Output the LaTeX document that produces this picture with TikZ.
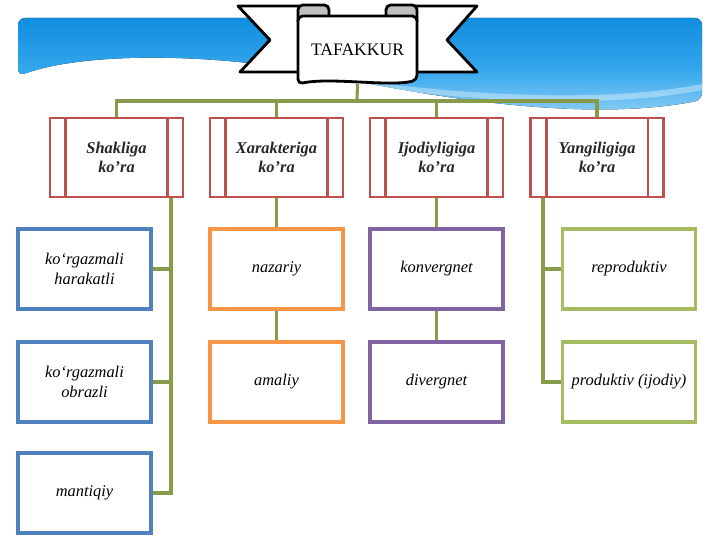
\documentclass[tikz,border=0pt]{standalone}
\usepackage{fontspec}
\setmainfont{Liberation Serif}
\usepackage{tikz}
\usetikzlibrary{positioning}

\definecolor{kindred}{RGB}{192,80,77}
\definecolor{subblue}{RGB}{79,129,189}
\definecolor{suborange}{RGB}{247,150,70}
\definecolor{subpurple}{RGB}{128,100,162}
\definecolor{subgreen}{RGB}{166,188,96}
\definecolor{linkolive}{RGB}{134,156,74}
\definecolor{bandtop}{RGB}{16,142,222}
\definecolor{bandmid}{RGB}{52,166,236}
\definecolor{bandlow}{RGB}{150,210,246}

\begin{document}
\begin{tikzpicture}[x=0.03cm,y=-0.03cm,
  kind/.style={draw=kindred,line width=2.4pt,fill=white,minimum width=3.99cm,minimum height=2.37cm,align=center,text=black!85,font=\fontsize{14}{16}\selectfont\bfseries\itshape},
  kindline/.style={draw=kindred,line width=2.4pt},
  sub/.style={line width=2.6pt,fill=white,minimum width=3.99cm,minimum height=2.4cm,align=center,font=\fontsize{14}{17}\selectfont\itshape},
  link/.style={draw=linkolive,line width=2.6pt},
  scroll/.style={draw=black,line width=2.4pt,line join=round}]
\useasboundingbox (0,0) rectangle (720,540);

% blue band at the top
\fill[rounded corners=6pt,top color=bandtop,bottom color=bandlow,middle color=bandmid]
  (18,76) -- (18,18) -- (702,18) -- (702,100)
  .. controls (600,120) and (470,104) .. (340,78)
  .. controls (230,54) and (90,50) .. (18,76) -- cycle;
\fill[white,opacity=0.35] (300,72) .. controls (450,96) and (600,104) .. (702,84)
  -- (702,90) .. controls (600,110) and (450,102) .. (300,76) -- cycle;

% title scroll
\draw[scroll,fill=white] (300,6) -- (238,6) -- (270,40) -- (240,72) -- (300,72);
\draw[scroll,fill=white] (415,6) -- (477,6) -- (447,40) -- (477,72) -- (415,72);
\draw[scroll,fill=black!25,rounded corners=4pt] (298,22) -- (298,5) -- (329,5) -- (329,22);
\draw[scroll,fill=black!25,rounded corners=4pt] (386,22) -- (386,5) -- (417,5) -- (417,22);
\draw[scroll,fill=white,rounded corners=4pt] (298,16) -- (417,16) -- (417,80)
  .. controls (390,87) and (330,77) .. (298,84) -- cycle;
\node[minimum width=3.57cm,minimum height=2.04cm,font=\fontsize{15}{17}\selectfont] (taf) at (357.5,49.5) {TAFAKKUR};

\coordinate (bus) at (357,101);
\coordinate (v1) at (171,0);
\coordinate (v4) at (543,0);

% first level
\node[kind] (k1) at (116.5,157.5) {Shakliga\\ko’ra};
\node[kind] (k2) at (276.5,157.5) {Xarakteriga\\ko’ra};
\node[kind] (k3) at (436.5,157.5) {Ijodiyligiga\\ko’ra};
\node[kind] (k4) at (597,157.5) {Yangiligiga\\ko’ra};
\foreach \k in {k1,k2,k3,k4} {
  \draw[kindline] ([xshift=0.51cm]\k.north west) -- ([xshift=0.51cm]\k.south west);
  \draw[kindline] ([xshift=-0.51cm]\k.north east) -- ([xshift=-0.51cm]\k.south east);
}

% second level
\node[sub,draw=subblue] (s11) at (84.5,269) {ko‘rgazmali\\harakatli};
\node[sub,draw=subblue] (s12) at (84.5,382) {ko‘rgazmali\\obrazli};
\node[sub,draw=subblue] (s13) at (84.5,493) {mantiqiy};
\node[sub,draw=suborange] (s21) at (276.5,269) {nazariy};
\node[sub,draw=suborange] (s22) at (276.5,382) {amaliy};
\node[sub,draw=subpurple] (s31) at (436.5,269) {konvergnet};
\node[sub,draw=subpurple] (s32) at (436.5,382) {divergnet};
\node[sub,draw=subgreen] (s41) at (629,269) {reproduktiv};
\node[sub,draw=subgreen] (s42) at (629,382) {produktiv (ijodiy)};

% connectors
\draw[link] (taf.south) -- (bus);
\draw[link] (k1.north) |- (k4.north |- bus) -- (k4.north);
\draw[link] (k2.north) -- (k2.north |- bus);
\draw[link] (k3.north) -- (k3.north |- bus);
\draw[link] (k1.south -| v1) |- (s13.east);
\draw[link] (s11.east) -- (s11.east -| v1);
\draw[link] (s12.east) -- (s12.east -| v1);
\draw[link] (k2.south) -- (s21.north);
\draw[link] (s21.south) -- (s22.north);
\draw[link] (k3.south) -- (s31.north);
\draw[link] (s31.south) -- (s32.north);
\draw[link] (k4.south -| v4) |- (s42.west);
\draw[link] (s41.west) -- (s41.west -| v4);
\end{tikzpicture}
\end{document}
